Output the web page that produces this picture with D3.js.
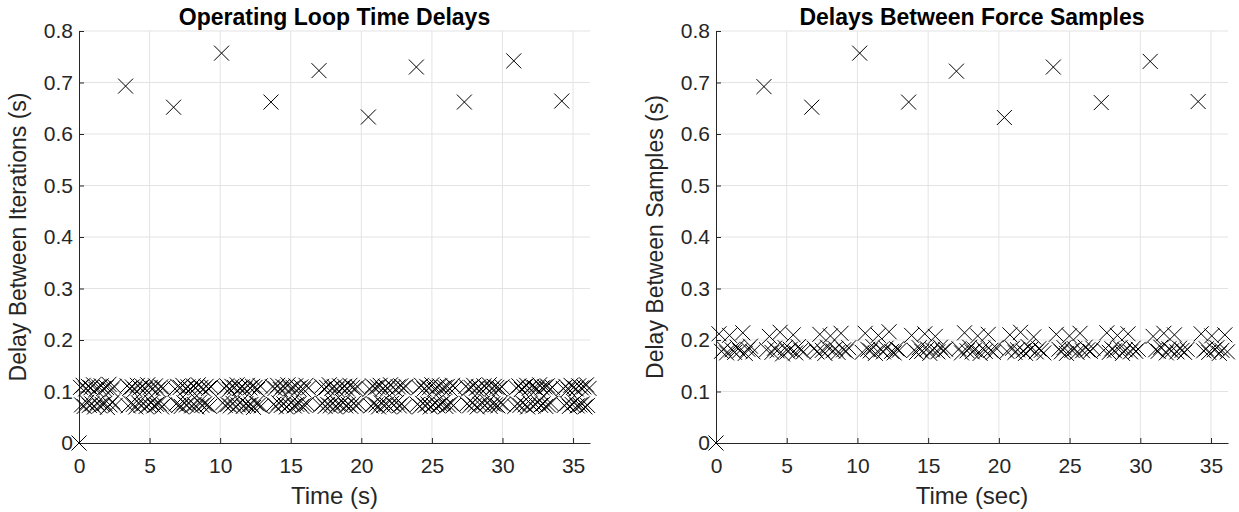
<!DOCTYPE html>
<html>
<head>
<meta charset="utf-8">
<script src="https://cdn.jsdelivr.net/npm/d3@7"></script>
<style>
  body { margin: 0; background: #fff; }
  svg { display: block; font-family: "Liberation Sans", Arial, sans-serif; }
</style>
</head>
<body>
<div id="chart"></div>
<script>
// ---- data ----
// left panel: loop iteration delays. Slow iterations (the 0.6-0.8 s ones) with their times,
// and the fast ones in between, listed as delays (time = previous time + delay)
const loopSlowTimes = [3.3, 6.7, 10.1, 13.6, 17.0, 20.5, 23.9, 27.3, 30.8, 34.2];
const loopSlowDelays = [0.693, 0.652, 0.757, 0.662, 0.723, 0.633, 0.730, 0.662, 0.742, 0.664];
const loopFastDelays = [
  [0.108,0.074,0.112,0.071,0.105,0.079,0.110,0.073,0.107,0.076,0.113,0.070,0.104,0.078,0.109,0.072,0.111,0.075,0.106,0.077,0.108,0.069,0.114,0.074,0.103,0.080,0.110,0.073],
  [0.111,0.072,0.106,0.077,0.109,0.075,0.104,0.070,0.112,0.078,0.107,0.073,0.110,0.076,0.105,0.071,0.113,0.074,0.108,0.079,0.106,0.072,0.111,0.075,0.104,0.077,0.109,0.070,0.107,0.074],
  [0.105,0.076,0.110,0.073,0.108,0.071,0.112,0.078,0.106,0.074,0.109,0.077,0.104,0.072,0.111,0.075,0.107,0.070,0.113,0.079,0.108,0.073,0.105,0.076,0.110,0.074,0.106,0.071,0.109],
  [0.078,0.107,0.073,0.111,0.075,0.104,0.072,0.110,0.077,0.108,0.070,0.113,0.074,0.106,0.079,0.109,0.071,0.105,0.076,0.112,0.073,0.107,0.075,0.110,0.069,0.108,0.077,0.104,0.074,0.111,0.072],
  [0.109,0.075,0.106,0.071,0.112,0.078,0.104,0.073,0.110,0.076,0.107,0.070,0.113,0.074,0.105,0.079,0.108,0.072,0.111,0.075,0.106,0.077,0.109,0.071,0.104,0.074,0.112,0.076,0.107],
  [0.073,0.110,0.077,0.105,0.071,0.108,0.075,0.113,0.072,0.106,0.078,0.109,0.070,0.104,0.076,0.111,0.074,0.107,0.079,0.110,0.072,0.105,0.075,0.112,0.071,0.108,0.077,0.106,0.073,0.109,0.076],
  [0.104,0.072,0.111,0.076,0.107,0.074,0.109,0.070,0.112,0.078,0.105,0.073,0.110,0.075,0.106,0.071,0.113,0.077,0.108,0.074,0.104,0.079,0.109,0.072,0.111,0.076,0.107,0.070,0.110],
  [0.075,0.108,0.071,0.112,0.077,0.105,0.073,0.110,0.076,0.107,0.070,0.113,0.074,0.104,0.078,0.109,0.072,0.111,0.075,0.106,0.079,0.108,0.071,0.110,0.074,0.105,0.077,0.112,0.073,0.107],
  [0.110,0.076,0.105,0.072,0.108,0.078,0.112,0.074,0.106,0.070,0.109,0.075,0.104,0.077,0.111,0.073,0.107,0.079,0.113,0.071,0.105,0.076,0.110,0.074,0.108,0.072,0.106,0.078,0.109,0.075],
  [0.071,0.107,0.076,0.111,0.073,0.104,0.078,0.109,0.074,0.112,0.070,0.106,0.077,0.110,0.072,0.108,0.075,0.105,0.079,0.113,0.073,0.107,0.076,0.109,0.071,0.111,0.074,0.104,0.077,0.108],
  [0.106,0.073,0.110,0.077,0.104,0.071,0.112,0.075,0.108,0.079,0.105,0.072,0.111,0.074,0.107,0.076,0.109,0.070,0.113,0.073,0.106]
];

// right panel: force sample delays
const forceSlowTimes = [3.39, 6.77, 10.16, 13.62, 17.0, 20.39, 23.85, 27.24, 30.7, 34.09];
const forceSlowDelays = [0.692, 0.652, 0.757, 0.662, 0.722, 0.632, 0.730, 0.661, 0.741, 0.663];
const forceFastDelays = [
  [0.212,0.178,0.183,0.175,0.209,0.181,0.176,0.186,0.179,0.214,0.174,0.182,0.188,0.177],
  [0.181,0.207,0.176,0.184,0.179,0.215,0.173,0.185,0.178,0.182,0.210,0.175,0.187,0.180,0.177],
  [0.184,0.177,0.211,0.180,0.174,0.186,0.208,0.179,0.183,0.176,0.213,0.181,0.178,0.185],
  [0.176,0.213,0.182,0.179,0.187,0.174,0.209,0.181,0.177,0.184,0.216,0.178,0.175,0.183,0.180],
  [0.209,0.180,0.176,0.185,0.178,0.212,0.183,0.174,0.181,0.207,0.177,0.186,0.179,0.182],
  [0.183,0.175,0.214,0.179,0.186,0.177,0.181,0.208,0.174,0.184,0.178,0.211,0.180,0.176,0.185],
  [0.178,0.210,0.184,0.176,0.181,0.215,0.179,0.174,0.187,0.182,0.206,0.177,0.183,0.180,0.175],
  [0.211,0.182,0.177,0.185,0.174,0.208,0.180,0.183,0.176,0.213,0.179,0.186,0.181,0.178,0.184],
  [0.180,0.214,0.176,0.183,0.179,0.209,0.185,0.174,0.181,0.212,0.177,0.184,0.178,0.182],
  [0.207,0.181,0.178,0.186,0.213,0.175,0.183,0.179,0.210,0.177,0.184,0.180,0.176,0.182],
  [0.212,0.179,0.183,0.176,0.208,0.181,0.185,0.174,0.180,0.210,0.177]
];

const xTicks = [0, 5, 10, 15, 20, 25, 30, 35];
const yTicks = [0, 0.1, 0.2, 0.3, 0.4, 0.5, 0.6, 0.7, 0.8];
const xMax = 36.2, yMax = 0.8;

// build the point list: first sample at (0,0), then fast samples stepping from the
// previous slow one, then the slow one itself
function buildPoints(slowTimes, slowDelays, fastDelays) {
    const pts = [{ t: 0, d: 0 }];
    let start = 0;
    fastDelays.forEach((seg, i) => {
        let t = start;
        seg.forEach(d => {
            t += d;
            pts.push({ t: t, d: d });
        });
        if (i < slowTimes.length) {
            pts.push({ t: slowTimes[i], d: slowDelays[i] });
            start = slowTimes[i];
        }
    });
    return pts;
}

const width = 1239, height = 512;
const svg = d3.select("#chart").append("svg")
    .attr("width", width)
    .attr("height", height);

const axisColor = "#262626";

function drawPanel(cfg) {
    const x = d3.scaleLinear().domain([0, xMax]).range([cfg.left, cfg.right]);
    const y = d3.scaleLinear().domain([0, yMax]).range([cfg.bottom, cfg.top]);
    const g = svg.append("g");

    // grid
    g.append("g").selectAll("line")
        .data(xTicks.slice(1))
        .enter().append("line")
        .attr("x1", d => x(d)).attr("x2", d => x(d))
        .attr("y1", cfg.top).attr("y2", cfg.bottom)
        .attr("stroke", "#e3e3e3").attr("stroke-width", 1);
    g.append("g").selectAll("line")
        .data(yTicks.slice(1))
        .enter().append("line")
        .attr("x1", cfg.left).attr("x2", cfg.right)
        .attr("y1", d => y(d)).attr("y2", d => y(d))
        .attr("stroke", "#e3e3e3").attr("stroke-width", 1);

    // axes (ticks pointing inward, like MATLAB)
    const xAxis = d3.axisBottom(x).tickValues(xTicks).tickSizeInner(-5).tickSizeOuter(0)
        .tickPadding(15).tickFormat(d3.format("d"));
    const yAxis = d3.axisLeft(y).tickValues(yTicks).tickSizeInner(-5).tickSizeOuter(0)
        .tickPadding(6).tickFormat(d => d === 0 ? "0" : d3.format(".1f")(d));

    const gx = g.append("g").attr("transform", `translate(0,${cfg.bottom})`).call(xAxis);
    const gy = g.append("g").attr("transform", `translate(${cfg.left},0)`).call(yAxis);
    [gx, gy].forEach(a => {
        a.select(".domain").attr("stroke", axisColor).attr("stroke-width", 1);
        a.selectAll(".tick line").attr("stroke", axisColor);
        a.selectAll(".tick text")
            .attr("fill", axisColor)
            .style("font-size", "21px")
            .style("font-family", "Liberation Sans, Arial, sans-serif");
    });

    // markers
    const s = 7.5;
    g.append("g").selectAll("path")
        .data(cfg.points)
        .enter().append("path")
        .attr("transform", d => `translate(${x(d.t)},${y(d.d)})`)
        .attr("d", `M${-s},${-s}L${s},${s}M${-s},${s}L${s},${-s}`)
        .attr("fill", "none")
        .attr("stroke", "#000")
        .attr("stroke-width", 1);

    // title
    g.append("text")
        .attr("x", (cfg.left + cfg.right) / 2)
        .attr("y", 25)
        .attr("text-anchor", "middle")
        .style("font-size", "23px")
        .style("font-weight", "bold")
        .attr("fill", "#000")
        .text(cfg.title);

    // axis labels
    g.append("text")
        .attr("x", (cfg.left + cfg.right) / 2)
        .attr("y", 504)
        .attr("text-anchor", "middle")
        .style("font-size", "24px")
        .attr("fill", axisColor)
        .text(cfg.xLabel);

    g.append("text")
        .attr("transform", `translate(${cfg.left - 53},${(cfg.top + cfg.bottom) / 2}) rotate(-90)`)
        .attr("text-anchor", "middle")
        .style("font-size", "23px")
        .attr("fill", axisColor)
        .text(cfg.yLabel);
}

drawPanel({
    left: 79, right: 590, top: 31, bottom: 443,
    title: "Operating Loop Time Delays",
    xLabel: "Time (s)",
    yLabel: "Delay Between Iterations (s)",
    points: buildPoints(loopSlowTimes, loopSlowDelays, loopFastDelays)
});

drawPanel({
    left: 716, right: 1228, top: 31, bottom: 443,
    title: "Delays Between Force Samples",
    xLabel: "Time (sec)",
    yLabel: "Delay Between Samples (s)",
    points: buildPoints(forceSlowTimes, forceSlowDelays, forceFastDelays)
});
</script>
</body>
</html>
